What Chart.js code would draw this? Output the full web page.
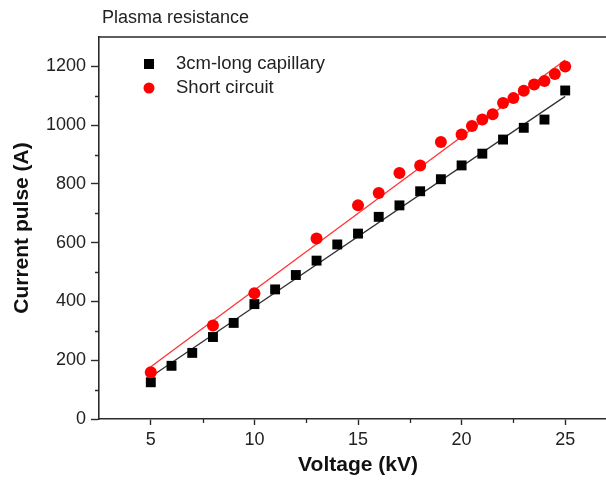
<!DOCTYPE html>
<html>
<head>
<meta charset="utf-8">
<script src="https://cdn.jsdelivr.net/npm/chart.js@4.4.1/dist/chart.umd.min.js"></script>
<style>
  html, body { margin: 0; padding: 0; background: #fff; overflow: hidden; }
  #wrap { width: 640px; height: 481px; }
</style>
</head>
<body>
<div id="wrap"><canvas id="c" width="640" height="481"></canvas></div>
<script>
// ---- data ----
const chartTitle = 'Plasma resistance';
const seriesNames = ['3cm-long capillary', 'Short circuit'];
const voltageCapillary = [5, 6, 7, 8, 9, 10, 11, 12, 13, 14, 15, 16, 17, 18, 19, 20, 21, 22, 23, 24, 25];
const currentCapillary = [125, 181, 225, 279, 327, 391, 441, 490, 539, 594, 631, 688, 727, 775, 816, 863, 903, 951, 991, 1019, 1118];
const voltageShort = [5, 8, 10, 13, 15, 16, 17, 18, 19, 20, 20.5, 21, 21.5, 22, 22.5, 23, 23.5, 24, 24.5, 25];
const currentShort = [159, 318, 428, 614, 727, 769, 837, 863, 943, 968, 997, 1019, 1037, 1075, 1092, 1117, 1138, 1150, 1174, 1200];
const fitCapillaryX = [5, 25];
const fitCapillaryY = [144, 1098];
const fitShortX = [5, 25];
const fitShortY = [178, 1222];
const xTicks = [5, 10, 15, 20, 25];
const xMinorTicks = [7.5, 12.5, 17.5, 22.5];
const yTicks = [0, 200, 400, 600, 800, 1000, 1200];
const yMinorTicks = [100, 300, 500, 700, 900, 1100];

const toXY = (xs, ys) => xs.map((x, i) => ({ x: x, y: ys[i] }));
const FONT = "'Liberation Sans', Arial, sans-serif";
const AXIS = '#2a2a2a';

const framePlugin = {
  id: 'frame',
  afterDraw(chart) {
    const { ctx, chartArea: a, scales } = chart;
    const xs = scales.x, ys = scales.y;
    ctx.save();
    ctx.strokeStyle = AXIS;
    ctx.lineWidth = 1.6;
    ctx.beginPath();
    ctx.moveTo(a.left, a.top); ctx.lineTo(a.right, a.top); ctx.lineTo(a.right, a.bottom);
    ctx.stroke();
    ctx.lineWidth = 1.3;
    ctx.beginPath();
    xMinorTicks.forEach(v => { const px = Math.round(xs.getPixelForValue(v)) + 0.5; ctx.moveTo(px, a.bottom); ctx.lineTo(px, a.bottom + 4); });
    yMinorTicks.forEach(v => { const py = Math.round(ys.getPixelForValue(v)) + 0.5; ctx.moveTo(a.left, py); ctx.lineTo(a.left - 4, py); });
    ctx.stroke();
    // title
    ctx.fillStyle = '#222';
    ctx.font = '18px ' + FONT;
    ctx.textBaseline = 'middle';
    ctx.textAlign = 'left';
    ctx.fillText(chartTitle, a.left + 3, 18);
    // legend
    const lx = a.left + 50, ly1 = a.top + 27, ly2 = a.top + 51;
    ctx.fillStyle = '#000';
    ctx.fillRect(lx - 5, ly1 - 5, 10, 10);
    ctx.fillStyle = '#ff0000';
    ctx.beginPath(); ctx.arc(lx, ly2, 5.5, 0, Math.PI * 2); ctx.fill();
    ctx.fillStyle = '#222';
    ctx.font = '18.5px ' + FONT;
    ctx.fillText(seriesNames[0], lx + 27, ly1);
    ctx.fillText(seriesNames[1], lx + 27, ly2);
    ctx.restore();
  }
};

new Chart(document.getElementById('c'), {
  type: 'scatter',
  data: {
    datasets: [
      { label: seriesNames[0] + ' fit', data: toXY(fitCapillaryX, fitCapillaryY), showLine: true,
        borderColor: '#333', borderWidth: 1.3, pointRadius: 0, order: 3 },
      { label: seriesNames[1] + ' fit', data: toXY(fitShortX, fitShortY), showLine: true,
        borderColor: '#ff3333', borderWidth: 1.3, pointRadius: 0, order: 4 },
      { label: seriesNames[0], data: toXY(voltageCapillary, currentCapillary), pointStyle: 'rect',
        pointRadius: 7, backgroundColor: '#000', borderWidth: 0, order: 2 },
      { label: seriesNames[1], data: toXY(voltageShort, currentShort), pointStyle: 'circle',
        pointRadius: 6, backgroundColor: '#ff0000', borderWidth: 0, order: 1 }
    ]
  },
  options: {
    responsive: false,
    animation: false,
    layout: { padding: { left: 0, top: 37, right: 23, bottom: 0 } },
    plugins: { legend: { display: false }, tooltip: { enabled: false }, title: { display: false } },
    scales: {
      x: {
        type: 'linear', min: 2.5, max: 27.5,
        afterBuildTicks: s => { s.ticks = xTicks.map(v => ({ value: v })); },
        afterFit: s => { s.height = 62; },
        grid: { drawOnChartArea: false, drawTicks: true, tickLength: 6, color: AXIS, tickColor: AXIS, tickWidth: 1.4 },
        border: { display: true, color: AXIS, width: 1.6 },
        ticks: { color: '#222', font: { family: FONT, size: 18 }, padding: 4, maxRotation: 0, autoSkip: false,
                 callback: v => String(v) },
        title: { display: true, text: 'Voltage (kV)', color: '#111', font: { family: FONT, size: 21, weight: 'bold' }, padding: { top: 0, bottom: 3 } }
      },
      y: {
        type: 'linear', min: 0, max: 1300,
        afterBuildTicks: s => { s.ticks = yTicks.map(v => ({ value: v })); },
        afterFit: s => { s.width = 99; },
        grid: { drawOnChartArea: false, drawTicks: true, tickLength: 8, color: AXIS, tickColor: AXIS, tickWidth: 1.4 },
        border: { display: true, color: AXIS, width: 1.6 },
        ticks: { color: '#222', font: { family: FONT, size: 18 }, padding: 5, autoSkip: false,
                 callback: v => String(v) },
        title: { display: true, text: 'Current pulse (A)', color: '#111', font: { family: FONT, size: 21, weight: 'bold' }, padding: { top: 10, bottom: 0 } }
      }
    }
  },
  plugins: [framePlugin]
});
</script>
</body>
</html>
